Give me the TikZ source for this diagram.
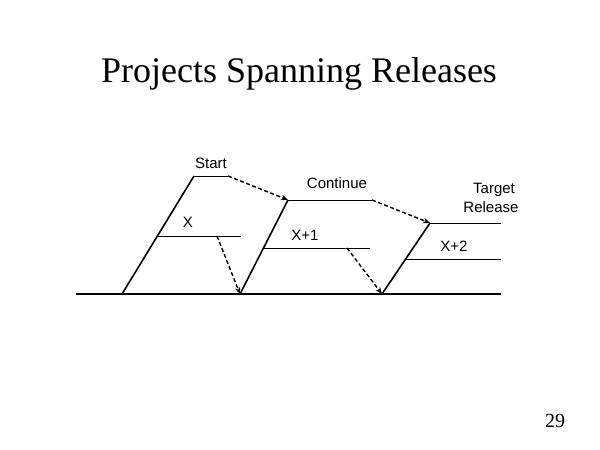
\documentclass[tikz,border=0pt]{standalone}
\usepackage{fontspec}
\setmainfont{Liberation Serif}
\newfontfamily\labelfont{Liberation Sans}
\usetikzlibrary{arrows.meta}

\begin{document}
\begin{tikzpicture}[x=1pt,y=-1pt,
  lbl/.style={font=\labelfont\fontsize{15}{19.5}\selectfont, inner sep=0pt, anchor=base},
  phase/.style={line width=1.6pt},
  rel/.style={line width=1pt},
  hop/.style={dash pattern=on 4pt off 2.5pt, line width=1.4pt, -{Stealth[length=7pt,width=5.5pt]}}]
  \useasboundingbox (0,0) rectangle (600,450);

  % title and page number
  \node[anchor=base, inner sep=0pt, font=\fontsize{36}{40}\selectfont] (title) at (299,82) {Projects Spanning Releases};
  \node[anchor=base, inner sep=0pt, font=\fontsize{20}{22}\selectfont] (page) at (555,427) {29};

  % time line
  \coordinate (t0) at (76,294);
  \coordinate (t1) at (501,294);
  \draw[phase] (t0) -- (t1);

  % release X
  \coordinate (r1b) at (122,294);
  \coordinate (r1t) at (194,176);
  \coordinate (s1) at (228,176);
  \coordinate (x1a) at (157.5,236);
  \coordinate (x1b) at (241,236);
  \coordinate (x1d) at (217,236);
  \draw[phase] (r1b) -- (r1t);
  \draw[rel] (r1t) -- (s1);
  \draw[rel] (x1a) -- (x1b);

  % release X+1
  \coordinate (r2b) at (240,294);
  \coordinate (r2t) at (288,200);
  \coordinate (c2) at (372,200);
  \coordinate (x2a) at (263.5,248);
  \coordinate (x2b) at (370,248);
  \coordinate (x2d) at (347,248);
  \draw[phase] (r2b) -- (r2t);
  \draw[rel] (r2t) -- (c2);
  \draw[rel] (x2a) -- (x2b);

  % release X+2
  \coordinate (r3b) at (382,294);
  \coordinate (r3t) at (430,223);
  \coordinate (g3) at (501,223);
  \coordinate (x3a) at (405.7,259);
  \coordinate (x3b) at (501,259);
  \draw[phase] (r3b) -- (r3t);
  \draw[rel] (r3t) -- (g3);
  \draw[rel] (x3a) -- (x3b);

  % hand-overs
  \draw[hop] (s1) -- (r2t);
  \draw[hop] (c2) -- (r3t);
  \draw[hop] (x1d) -- (r2b);
  \draw[hop] (x2d) -- (r3b);

  % labels
  \node[lbl] (start) at (211,168) {Start};
  \node[lbl] (xlbl) at (188,227) {X};
  \node[lbl] (cont) at (337,188) {Continue};
  \node[lbl] (x1lbl) at (305,240) {X+1};
  \node[lbl] (target) at (494,193) {Target};
  \node[lbl] (release) at (491,212) {Release};
  \node[lbl] (x2lbl) at (454,251) {X+2};
\end{tikzpicture}
\end{document}
